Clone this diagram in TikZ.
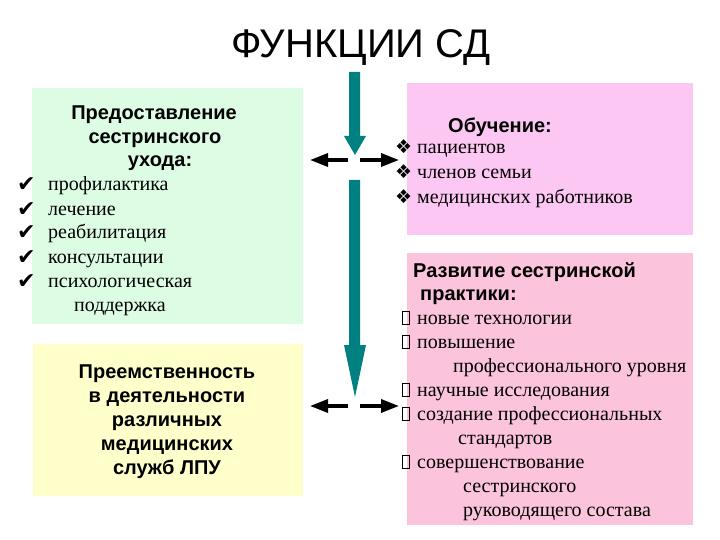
\documentclass[tikz,border=0pt]{standalone}
\usepackage{fontspec}
\setmainfont{Liberation Serif}
\newfontfamily\hsans{Liberation Sans}
\newfontfamily\symf{DejaVu Sans}
\usetikzlibrary{arrows.meta}
\definecolor{gbox}{RGB}{220,252,228}
\definecolor{ptop}{RGB}{253,199,244}
\definecolor{pbot}{RGB}{252,196,220}
\definecolor{ybox}{RGB}{255,255,204}
\definecolor{tealc}{RGB}{0,128,128}
\tikzset{
  txt/.style={anchor=base west,inner sep=0pt,font=\fontsize{20}{24}\selectfont},
  hd/.style={anchor=base,inner sep=0pt,font=\hsans\bfseries\fontsize{20}{24}\selectfont},
  hdw/.style={anchor=base west,inner sep=0pt,font=\hsans\bfseries\fontsize{20}{24}\selectfont},
  bul/.style={anchor=base west,inner sep=0pt,font=\symf\fontsize{19}{24}\selectfont},
  chk/.style={anchor=base west,inner sep=0pt,font=\symf\fontsize{22}{24}\selectfont},
  sqb/.style={draw,line width=0.6pt,inner sep=0pt,minimum width=7pt,minimum height=13pt,anchor=south west},
  blk/.style={line width=3.5pt,-{Triangle[length=18pt,width=13pt]}},
}
\begin{document}
\begin{tikzpicture}[x=1pt,y=-1pt]
\useasboundingbox (0,0) rectangle (720,540);
% boxes
\fill[gbox] (32,88) rectangle (303,324);
\fill[ptop] (407,83) rectangle (693,235);
\fill[pbot] (407,253) rectangle (693,525);
\fill[ybox] (33,344) rectangle (303,496);
\node[anchor=base,inner sep=0pt,font=\hsans\fontsize{40}{44}\selectfont] (title) at (361,58) {ФУНКЦИИ СД};
% green box
\node[hd] (g1) at (154,120) {Предоставление};
\node[hd] (g2) at (155,144) {сестринского};
\node[hd] (g3) at (160,167) {ухода:};
\foreach \t [count=\i] in {профилактика,лечение,реабилитация,консультации,психологическая}{
  \node[chk] (gc\i) at (17,168+24*\i) {✔};
  \node[txt] (gt\i) at (48,167+24*\i) {\t};
}
\node[txt] (gt6) at (74,311) {поддержка};
% pink top
\node[hdw] (p1) at (448,133) {Обучение:};
\foreach \t [count=\i] in {пациентов,членов семьи,медицинских работников}{
  \node[bul] (pb\i) at (395,129+25*\i) {❖};
  \node[txt] (pt\i) at (417,129+25*\i) {\t};
}
% pink bottom
\node[hdw] (r1) at (413,277) {Развитие сестринской};
\node[hdw] (r2) at (420,300) {практики:};
\node[sqb] (rb1) at (402,325) {};
\node[txt] (rt1) at (417,324) {новые технологии};
\node[sqb] (rb2) at (402,349) {};
\node[txt] (rt2) at (417,348) {повышение};
\node[txt] (rt3) at (453,372) {профессионального уровня};
\node[sqb] (rb4) at (402,397) {};
\node[txt] (rt4) at (417,396) {научные исследования};
\node[sqb] (rb5) at (402,421) {};
\node[txt] (rt5) at (417,420) {создание профессиональных};
\node[txt] (rt6) at (458,444) {стандартов};
\node[sqb] (rb7) at (402,469) {};
\node[txt] (rt7) at (417,468) {совершенствование};
\node[txt] (rt8) at (463,492) {сестринского};
\node[txt] (rt9) at (463,516) {руководящего состава};
% yellow box
\foreach \t [count=\i] in {Преемственность,в деятельности,различных,медицинских,служб ЛПУ}{
  \node[hd] (y\i) at (167,354+24*\i) {\t};
}
% teal arrows
\fill[tealc] (349,72) -- (360,72) -- (360,136) -- (366,136) -- (355,155) -- (344,136) -- (349,136) -- cycle;
\fill[tealc] (349,180) -- (360,180) -- (360,345) -- (366,345) -- (355,397) -- (344,345) -- (349,345) -- cycle;
% black arrows
\coordinate (a1l) at (348,160); \coordinate (a1r) at (360,160);
\coordinate (e1l) at (310,160); \coordinate (e1r) at (399,160);
\coordinate (a2l) at (348,406); \coordinate (a2r) at (360,406);
\coordinate (e2l) at (310,406); \coordinate (e2r) at (399,406);
\draw[blk] (a1l) -- (e1l);
\draw[blk] (a1r) -- (e1r);
\draw[blk] (a2l) -- (e2l);
\draw[blk] (a2r) -- (e2r);
\end{tikzpicture}
\end{document}
